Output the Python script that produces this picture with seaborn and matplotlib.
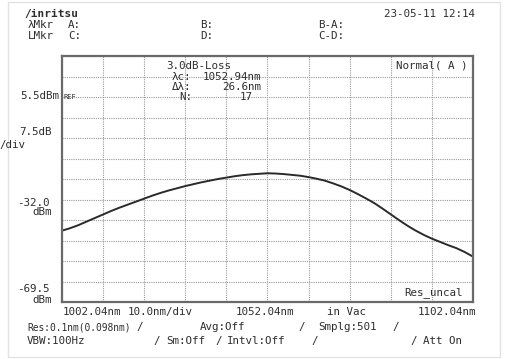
import matplotlib
matplotlib.use("Agg")
import pandas as pd
import seaborn as sns
import matplotlib.pyplot as plt
from matplotlib.patches import Rectangle

# spectrum (wavelength nm, level dBm)
wavelength = [1002.04, 1004, 1006, 1008, 1010, 1012, 1014, 1016, 1018, 1020,
              1022, 1024, 1026, 1028, 1030, 1032, 1034, 1036, 1038, 1040,
              1042, 1044, 1046, 1048, 1050, 1052, 1054, 1056, 1058, 1060,
              1062, 1064, 1066, 1068, 1070, 1072, 1074, 1076, 1078, 1080,
              1082, 1084, 1086, 1088, 1090, 1092, 1094, 1096, 1098, 1100,
              1102.04]
level = [-43.4, -42.5, -41.4, -40.1, -38.8, -37.5, -36.2, -35.0, -33.9, -32.8,
         -31.7, -30.6, -29.6, -28.7, -27.9, -27.1, -26.4, -25.7, -25.1, -24.5,
         -24.0, -23.5, -23.1, -22.8, -22.6, -22.4, -22.5, -22.7, -23.0, -23.3,
         -23.8, -24.4, -25.1, -26.1, -27.2, -28.5, -30.0, -31.6, -33.3, -35.3,
         -37.4, -39.5, -41.5, -43.3, -44.9, -46.3, -47.5, -48.7, -49.8, -51.2,
         -52.9]

x_start, x_stop, x_div = 1002.04, 1102.04, 10.0
ref_level, db_div = 5.5, 7.5
bottom_level = -69.5

df = pd.DataFrame({"nm": wavelength, "dBm": level})

sns.set_style("white")
plt.rcParams['font.family'] = ['DejaVu Sans Mono', 'DejaVu Sans']

W, H = 506, 359
fig = plt.figure(figsize=(W / 100, H / 100), dpi=100)
ax = fig.add_axes([62 / W, 57 / H, 411 / W, 246 / H])

sns.lineplot(data=df, x="nm", y="dBm", ax=ax, color="#2a2a2a", linewidth=1.4)

ax.set_xlim(x_start, x_stop)
ax.set_ylim(bottom_level, bottom_level + 12 * db_div)
ax.set_xticks([x_start + i * x_div for i in range(11)])
ax.set_yticks([bottom_level + i * db_div for i in range(13)])
ax.grid(True, color="#9a9a9a", linestyle=(0, (1, 1)), linewidth=0.8)
ax.tick_params(length=0, labelbottom=False, labelleft=False)
ax.set_xlabel("")
ax.set_ylabel("")
for s in ax.spines.values():
    s.set_color("#6a6a6a")
    s.set_linewidth(1.6)

tc = "#2e2e2e"
fs = 7.8


def t(x, y, s, ha="left", size=fs, **kw):
    fig.text(x / W, 1 - y / H, s, ha=ha, va="center", fontsize=size, color=tc, **kw)


# faint screen frame
fig.patches.append(Rectangle((8 / W, 2 / H), 492 / W, 355 / H, transform=fig.transFigure,
                             fill=False, edgecolor="#e2e2e2", linewidth=1))

# header
t(24, 14, "/inritsu", weight="bold", size=8)
t(475, 14, "23-05-11 12:14", ha="right")
t(28, 25, "λMkr")
t(68, 25, "A:")
t(200, 25, "B:")
t(318, 25, "B-A:")
t(28, 36, "LMkr")
t(68, 36, "C:")
t(200, 36, "D:")
t(318, 36, "C-D:")

# measurement box inside grid
t(166, 66, "3.0dB-Loss")
t(172, 77, "λc:")
t(261, 77, "1052.94nm", ha="right")
t(172, 87, "Δλ:")
t(261, 87, "26.6nm", ha="right")
t(179, 97, "N:")
t(253, 97, "17", ha="right")
t(468, 66, "Normal( A )", ha="right")
t(463, 293, "Res_uncal", ha="right")

# level scale
t(59, 96, f"{ref_level}dBm", ha="right")
t(64, 97, "REF", size=5)
t(52, 132, f"{db_div}dB", ha="right")
t(-1, 145, "/div")
t(50, 203, f"{ref_level - 5 * db_div:.1f}", ha="right")
t(52, 212, "dBm", ha="right")
t(50, 289, f"{bottom_level}", ha="right")
t(52, 300, "dBm", ha="right")

# wavelength scale
t(63, 312, f"{x_start:.2f}nm")
t(128, 312, f"{x_div:.1f}nm/div")
t(236, 312, f"{(x_start + x_stop) / 2:.2f}nm")
t(327, 312, "in Vac")
t(476, 312, f"{x_stop:.2f}nm", ha="right")

# settings
t(27, 327, "Res:0.1nm(0.098nm)", size=6.9)
t(136, 327, "/")
t(200, 327, "Avg:Off")
t(298, 327, "/")
t(318, 327, "Smplg:501")
t(392, 327, "/")
t(27, 341, "VBW:100Hz")
t(153, 341, "/")
t(166, 341, "Sm:Off")
t(215, 341, "/")
t(227, 341, "Intvl:Off")
t(311, 341, "/")
t(410, 341, "/")
t(423, 341, "Att On")

fig.savefig("out.png", dpi=100, facecolor="white")
